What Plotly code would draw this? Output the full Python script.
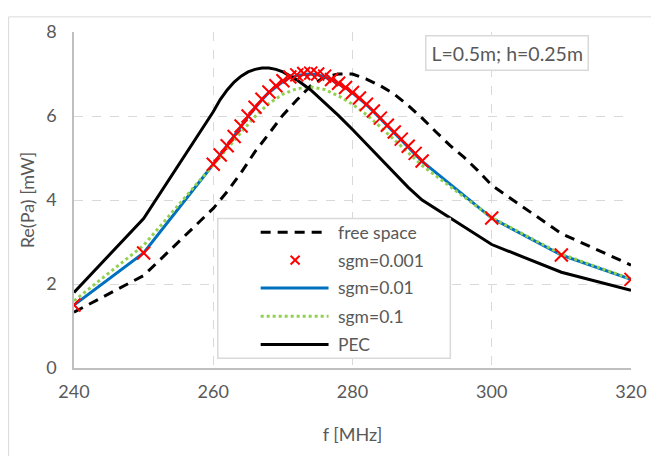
import plotly.graph_objects as go

# ---- data ----
f_free = [240, 250, 260, 262, 264, 266, 268, 270, 272, 274, 276, 278, 280,
          282, 284, 286, 288, 290, 292, 294, 296, 298, 300, 310, 320]
p_free = [1.33, 2.20, 3.80, 4.20, 4.65, 5.15, 5.58, 6.02, 6.38, 6.72, 6.93, 7.00, 7.00,
          6.88, 6.72, 6.52, 6.25, 5.95, 5.62, 5.30, 5.02, 4.70, 4.35, 3.20, 2.45]

f_sgm = [240, 250] + list(range(260, 291)) + [300, 310, 320]
p_sgm001 = [1.50, 2.74,
            4.85, 5.07, 5.29, 5.51, 5.76, 6.00, 6.21, 6.40, 6.57, 6.72,
            6.84, 6.93, 6.98, 7.01, 7.02, 7.00, 6.95, 6.87, 6.78, 6.68,
            6.56, 6.43, 6.28, 6.12, 5.95, 5.78, 5.62, 5.45, 5.28, 5.11, 4.93,
            3.57, 2.69, 2.11]
p_sgm01 = [1.50, 2.74,
           4.85, 5.07, 5.29, 5.51, 5.75, 5.99, 6.20, 6.39, 6.56, 6.70,
           6.82, 6.91, 6.96, 6.99, 7.00, 6.98, 6.93, 6.86, 6.77, 6.67,
           6.55, 6.42, 6.27, 6.11, 5.94, 5.77, 5.61, 5.44, 5.27, 5.10, 4.92,
           3.57, 2.69, 2.11]

f_sgm1 = [240, 250, 260, 262, 264, 266, 268, 270, 272, 274, 276, 278, 280,
          282, 284, 286, 288, 290, 300, 310, 320]
p_sgm1 = [1.60, 2.92, 4.84, 5.22, 5.62, 5.99, 6.30, 6.52, 6.65, 6.69, 6.63, 6.48, 6.28,
          6.03, 5.74, 5.44, 5.13, 4.82, 3.58, 2.71, 2.12]

f_pec = [240, 250, 260, 261, 262, 263, 264, 265, 266, 267, 268, 269, 270,
         272, 274, 276, 278, 280, 282, 284, 286, 288, 290, 300, 310, 320]
p_pec = [1.80, 3.56, 6.10, 6.39, 6.62, 6.81, 6.95, 7.05, 7.11, 7.14, 7.14, 7.11, 7.05,
         6.86, 6.62, 6.32, 6.01, 5.68, 5.33, 4.98, 4.63, 4.30, 4.00, 2.94, 2.28, 1.85]

x_ticks = [240, 260, 280, 300, 320]
y_ticks = [0, 2, 4, 6, 8]
names = ['free space', 'sgm=0.001', 'sgm=0.01', 'sgm=0.1', 'PEC']
note = 'L=0.5m; h=0.25m'

FONT = 'Lato'
GREY = '#595959'
RED = '#FF0000'
BLUE = '#0070C0'
GREEN = '#92D050'

fig = go.Figure()
fig.add_trace(go.Scatter(x=f_free, y=p_free, mode='lines', name=names[0],
                         line=dict(color='black', width=3, dash='10px,7px')))
fig.add_trace(go.Scatter(x=f_sgm, y=p_sgm01, mode='lines', name=names[2],
                         line=dict(color=BLUE, width=3)))
fig.add_trace(go.Scatter(x=f_sgm1, y=p_sgm1, mode='lines', name=names[3],
                         line=dict(color=GREEN, width=3, dash='dot')))
fig.add_trace(go.Scatter(x=f_pec, y=p_pec, mode='lines', name=names[4],
                         line=dict(color='black', width=3)))
fig.add_trace(go.Scatter(x=f_sgm, y=p_sgm001, mode='markers', name=names[1],
                         marker=dict(symbol='x-thin', size=13, color=RED,
                                     line=dict(color=RED, width=2))))

# page body has an 8px margin, so figure coords = screen coords - 8
OFF = 8
PW, PH = 558.0, 344.0
L, T = 74 - OFF, 24 - OFF
W, H = 659 - OFF, 456 - OFF


def px_x(p):
    # screen pixel -> paper x
    return (p - OFF - L) / PW


def px_y(p):
    return (T + PH - (p - OFF)) / PH


shapes = []
annotations = []

# outer chart border (only left/top visible in frame)
shapes.append(dict(type='rect', xref='paper', yref='paper',
                   x0=px_x(8.5), x1=px_x(700), y0=px_y(8.5), y1=px_y(500),
                   line=dict(color='#d9d9d9', width=1), layer='below'))

# custom legend, Excel style
shapes.append(dict(type='rect', xref='paper', yref='paper',
                   x0=px_x(218), x1=px_x(451), y0=px_y(215), y1=px_y(358),
                   line=dict(color='#d9d9d9', width=1.5), fillcolor='white'))
rows = [229, 257.5, 286, 315, 344]
styles = [dict(color='black', width=3, dash='10px,7px'), None,
          dict(color=BLUE, width=3), dict(color=GREEN, width=3, dash='dot'),
          dict(color='black', width=3)]
for name, ry, st in zip(names, rows, styles):
    if st is not None:
        shapes.append(dict(type='line', xref='paper', yref='paper',
                           x0=px_x(261), x1=px_x(329), y0=px_y(ry), y1=px_y(ry),
                           line=st))
    else:
        for dx in (-1, 1):
            shapes.append(dict(type='line', xref='paper', yref='paper',
                               x0=px_x(291), x1=px_x(300),
                               y0=px_y(ry - 4.5 * dx), y1=px_y(ry + 4.5 * dx),
                               line=dict(color=RED, width=2)))
    annotations.append(dict(xref='paper', yref='paper', x=px_x(336), y=px_y(ry),
                            text=name, showarrow=False, xanchor='left', yanchor='middle',
                            font=dict(family=FONT, size=17.5, color=GREY)))

# parameter note
annotations.append(dict(xref='paper', yref='paper', x=px_x(508), y=px_y(45),
                        text=note, showarrow=False, xanchor='center', yanchor='middle',
                        font=dict(family=FONT, size=19.5, color=GREY),
                        bordercolor='#d9d9d9', borderwidth=1.5, borderpad=5,
                        bgcolor='white'))

fig.update_layout(
    width=W, height=H,
    margin=dict(l=L, r=W - L - PW, t=T, b=H - T - PH),
    paper_bgcolor='white', plot_bgcolor='white',
    showlegend=False,
    font=dict(family=FONT, size=18, color=GREY),
    shapes=shapes, annotations=annotations,
)
fig.update_xaxes(range=[240, 320], tickvals=x_ticks, showgrid=True,
                 gridcolor='#d9d9d9', griddash='dash', gridwidth=1,
                 showline=True, linecolor='#bfbfbf', linewidth=1.5,
                 zeroline=False, ticks='', ticklabelstandoff=7,
                 tickfont=dict(family=FONT, size=18, color=GREY),
                 title=dict(text='f [MHz]', standoff=27,
                            font=dict(family=FONT, size=18, color=GREY)))
fig.update_yaxes(range=[0, 8], tickvals=y_ticks, showgrid=True,
                 gridcolor='#d9d9d9', griddash='dash', gridwidth=1,
                 showline=True, linecolor='#bfbfbf', linewidth=1.5,
                 zeroline=False, ticks='', ticklabelstandoff=12,
                 tickfont=dict(family=FONT, size=18, color=GREY),
                 title=dict(text='Re(Pa) [mW]', standoff=7,
                            font=dict(family=FONT, size=18, color=GREY)))

fig.write_html('out.html')
